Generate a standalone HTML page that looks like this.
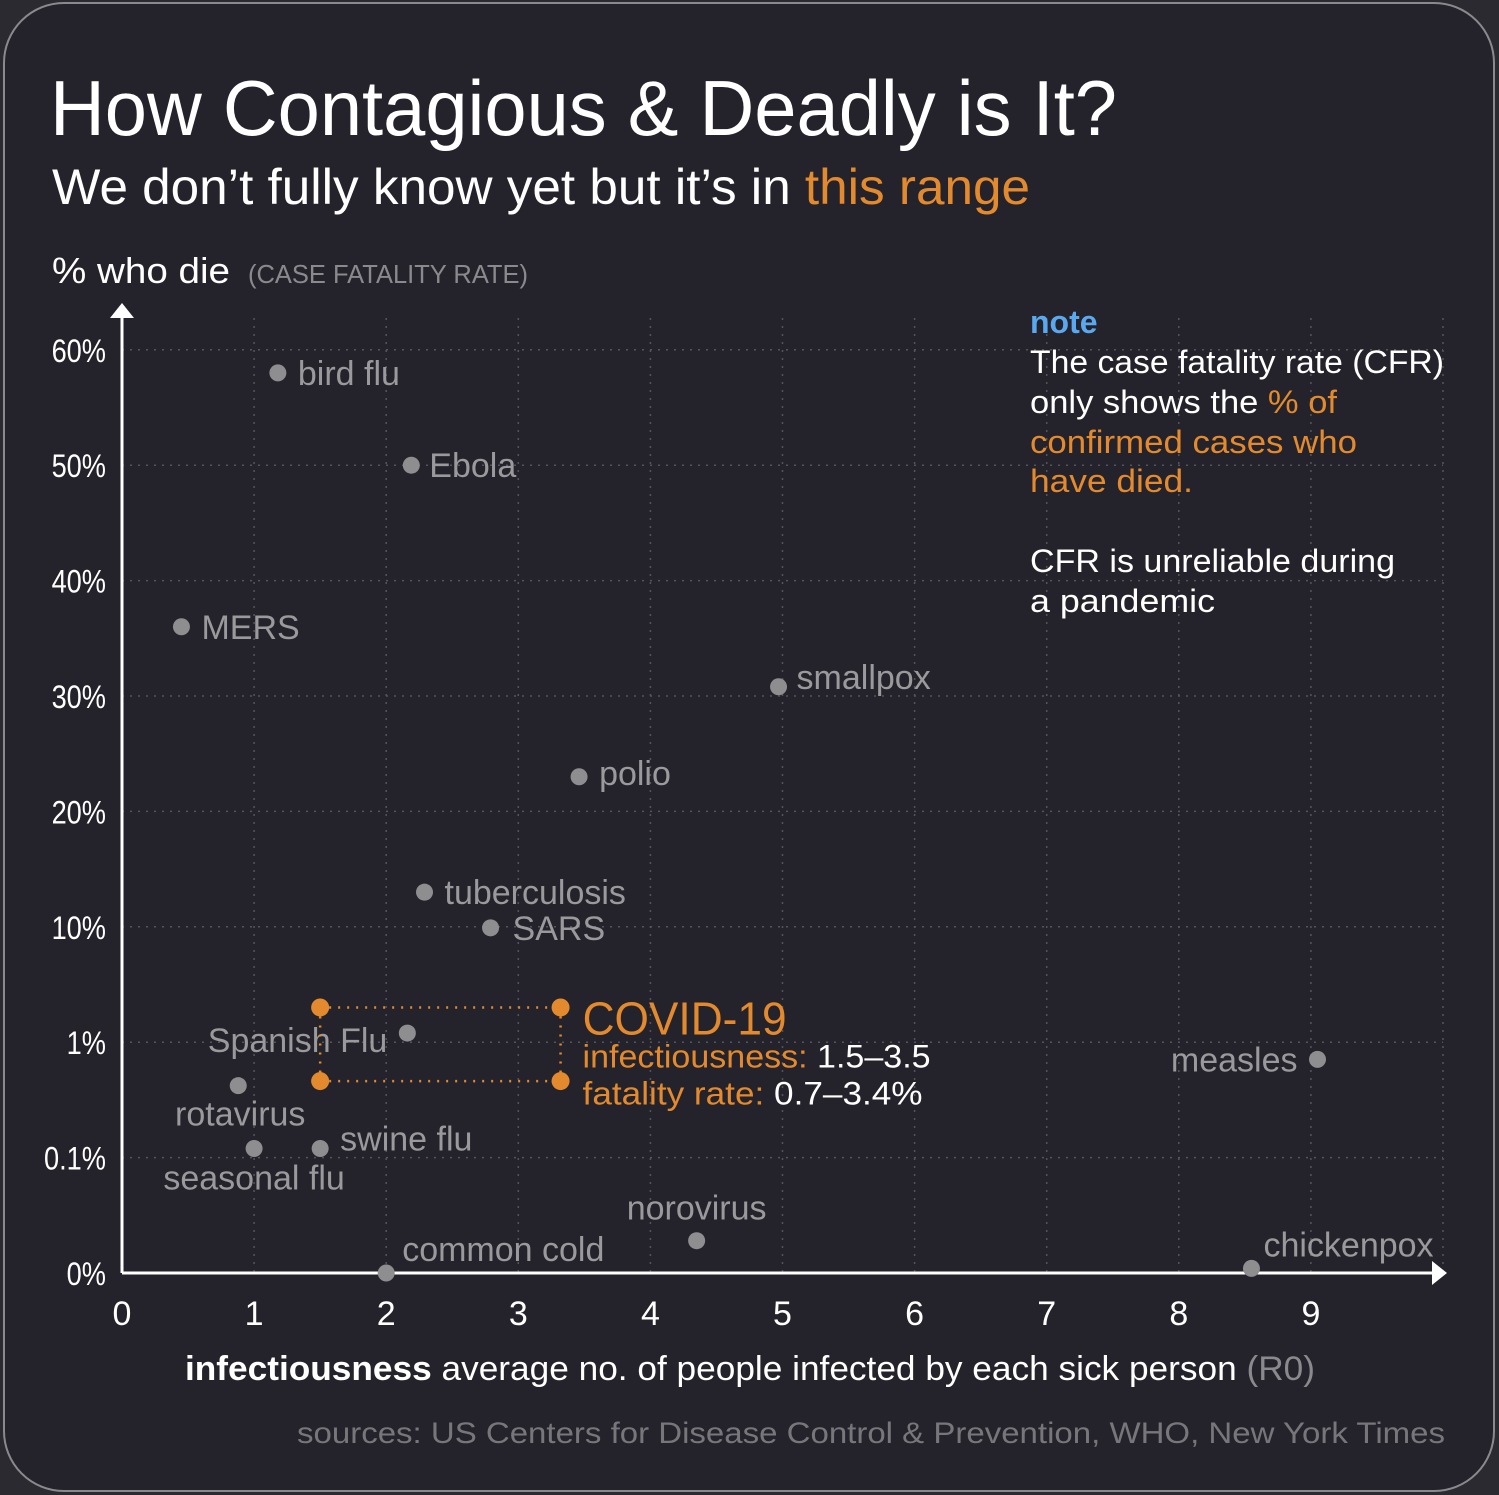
<!DOCTYPE html>
<html><head><meta charset="utf-8">
<style>
html,body{margin:0;padding:0;background:#2b2a31;}
body{width:1499px;height:1495px;overflow:hidden;}
svg{display:block;font-family:"Liberation Sans",sans-serif;}
</style></head>
<body>
<svg id="chart" width="1499" height="1495" viewBox="0 0 1499 1495" xmlns="http://www.w3.org/2000/svg">
<rect x="4" y="3" width="1490" height="1488" rx="60" fill="#24232b" stroke="#8a8a8e" stroke-width="2"/>
<text x="50" y="135" font-size="78" fill="#fff" textLength="1067" lengthAdjust="spacingAndGlyphs">How Contagious &amp; Deadly is It?</text>
<text x="52" y="204" font-size="50" fill="#fff" textLength="978" lengthAdjust="spacingAndGlyphs">We don’t fully know yet but it’s in <tspan fill="#e38a2e">this range</tspan></text>
<text x="52" y="283" font-size="36" fill="#fff" textLength="178" lengthAdjust="spacingAndGlyphs">% who die</text>
<text x="248" y="283" font-size="26" fill="#8a8a8e" textLength="280" lengthAdjust="spacingAndGlyphs">(CASE FATALITY RATE)</text>
<g id="grid"></g>
<g id="axes"></g>
<g id="points"></g>
<g id="covid"></g>
<g font-size="32" fill="#fff">
<text x="1030" y="333" fill="#5aa9f0" font-weight="bold">note</text>
<text x="1030" y="373" textLength="414" lengthAdjust="spacingAndGlyphs">The case fatality rate (CFR)</text>
<text x="1030" y="413" textLength="307" lengthAdjust="spacingAndGlyphs">only shows the <tspan fill="#e38a2e">% of</tspan></text>
<text x="1030" y="453" fill="#e38a2e" textLength="327" lengthAdjust="spacingAndGlyphs">confirmed cases who</text>
<text x="1030" y="492" fill="#e38a2e" textLength="163" lengthAdjust="spacingAndGlyphs">have died.</text>
<text x="1030" y="572" textLength="365" lengthAdjust="spacingAndGlyphs">CFR is unreliable during</text>
<text x="1030" y="612" textLength="185" lengthAdjust="spacingAndGlyphs">a pandemic</text>
</g>
<text x="185" y="1380" font-size="34" fill="#fff" textLength="1130" lengthAdjust="spacingAndGlyphs"><tspan font-weight="bold">infectiousness</tspan> average no. of people infected by each sick person <tspan fill="#8a8a8e">(R0)</tspan></text>
<text x="297" y="1443" font-size="30" fill="#77777b" textLength="1148" lengthAdjust="spacingAndGlyphs">sources: US Centers for Disease Control &amp; Prevention, WHO, New York Times</text>
</svg>
<script>
const yTicks = ["0%","0.1%","1%","10%","20%","30%","40%","50%","60%"];
const xTicks = [0,1,2,3,4,5,6,7,8,9];
const diseases = ["bird flu","Ebola","MERS","smallpox","polio","tuberculosis","SARS","Spanish Flu","rotavirus","seasonal flu","swine flu","norovirus","common cold","chickenpox","measles"];
const r0Values = [1.18,2.19,0.45,4.97,3.46,2.29,2.79,2.16,0.88,1.0,1.5,4.35,2.0,8.55,9.05];
const cfrValues = [58,50,36,30.8,23,13,9.8,1.2,0.42,0.12,0.12,0.028,0,0.004,0.71];
const covidR0 = [1.5,3.32];
const covidCfr = [0.46,2.0];

const NS="http://www.w3.org/2000/svg";
function mk(tag,attrs,parent,text){const e=document.createElementNS(NS,tag);for(const k in attrs)e.setAttribute(k,attrs[k]);if(text!==undefined)e.textContent=text;parent.appendChild(e);return e;}
const X0=122,XU=132.1,Y0=1273,YU=115.4;
function xs(v){return X0+v*XU;}
function yIndex(p){if(p<=0.1)return p/0.1;if(p<=10)return 1+Math.log10(p/0.1);return 3+(p-10)/10;}
function ys(p){return Y0-yIndex(p)*YU;}

const grid=document.getElementById('grid'),axes=document.getElementById('axes'),pts=document.getElementById('points'),cv=document.getElementById('covid');
yTicks.forEach((t,i)=>{
  const y=Y0-i*YU;
  if(i>0){const l=mk('line',{x1:X0,x2:1443,y1:y,y2:y,stroke:'#55545c','stroke-width':1.5,'stroke-dasharray':'2 6'},grid);
  
  }
  const tx=mk('text',{x:106,y:y+12,'font-size':32,fill:'#fff','text-anchor':'end',transform:`translate(106,0) scale(0.85,1) translate(-106,0)`},axes,t);
  
  
});
xTicks.forEach(v=>{
  const x=xs(v);
  if(v>0){const l=mk('line',{x1:x,x2:x,y1:318,y2:Y0,stroke:'#55545c','stroke-width':1.5,'stroke-dasharray':'2 6'},grid);
  
  }
  const tx=mk('text',{x:x,y:1325,'font-size':34,fill:'#fff','text-anchor':'middle'},axes,String(v));
  
  
});
const l10=mk('line',{x1:xs(10),x2:xs(10),y1:318,y2:Y0,stroke:'#55545c','stroke-width':1.5,'stroke-dasharray':'2 6'},grid);


const ya=mk('line',{x1:X0,x2:X0,y1:Y0,y2:312,stroke:'#fff','stroke-width':3},axes);


const yh=mk('polygon',{points:`${X0-12},318 ${X0+12},318 ${X0},303`,fill:'#fff'},axes);


const xa=mk('line',{x1:X0,x2:1436,y1:Y0,y2:Y0,stroke:'#fff','stroke-width':3},axes);


const xh=mk('polygon',{points:`1432,${Y0-12} 1432,${Y0+12} 1447,${Y0}`,fill:'#fff'},axes);



const labelPos={"bird flu":[20,12,'start'],"Ebola":[18,12,'start'],"MERS":[20,12,'start'],"smallpox":[18,2,'start'],"polio":[20,8,'start'],"tuberculosis":[20,12,'start'],"SARS":[22,12,'start'],"Spanish Flu":[-20,19,'end'],"rotavirus":[2,40,'middle'],"seasonal flu":[0,41,'middle'],"swine flu":[20,2,'start'],"norovirus":[0,-21,'middle'],"common cold":[16,-12,'start'],"chickenpox":[12,-12,'start'],"measles":[-20,12,'end']};
diseases.forEach((d,i)=>{
  const x=xs(r0Values[i]),y=ys(cfrValues[i]);
  const c=mk('circle',{cx:x,cy:y,r:8.5,fill:'#8e8e90'},pts);
  
  
  const o=labelPos[d]||[18,12,'start'];
  const t=mk('text',{x:x+o[0],y:y+o[1],'font-size':34,fill:'#9a9a9c','text-anchor':o[2]},pts,d);
  
  
});

const cx0=xs(covidR0[0]),cx1=xs(covidR0[1]),cy0=ys(covidCfr[1]),cy1=ys(covidCfr[0]);
[[cx0,cy0,cx1,cy0],[cx0,cy1,cx1,cy1],[cx0,cy0,cx0,cy1],[cx1,cy0,cx1,cy1]].forEach(s=>{
  const l=mk('line',{x1:s[0],y1:s[1],x2:s[2],y2:s[3],stroke:'#e38a2e','stroke-width':2.5,'stroke-dasharray':'2 7'},cv);
  
  
});
[[cx0,cy0],[cx1,cy0],[cx0,cy1],[cx1,cy1]].forEach(p=>{
  const c=mk('circle',{cx:p[0],cy:p[1],r:9,fill:'#e38a2e'},cv);
  
  
});
const t1=mk('text',{x:cx1+22,y:cy0+27,'font-size':46,fill:'#e38a2e',textLength:204,lengthAdjust:'spacingAndGlyphs'},cv,'COVID-19');


const t2=mk('text',{x:cx1+22,y:cy0+60,'font-size':32,fill:'#e38a2e',textLength:348,lengthAdjust:'spacingAndGlyphs'},cv);


t2.innerHTML='infectiousness: <tspan fill="#fff">1.5–3.5</tspan>';
const t3=mk('text',{x:cx1+22,y:cy0+97,'font-size':32,fill:'#e38a2e',textLength:340,lengthAdjust:'spacingAndGlyphs'},cv);


t3.innerHTML='fatality rate: <tspan fill="#fff">0.7–3.4%</tspan>';
</script>
</body></html>
